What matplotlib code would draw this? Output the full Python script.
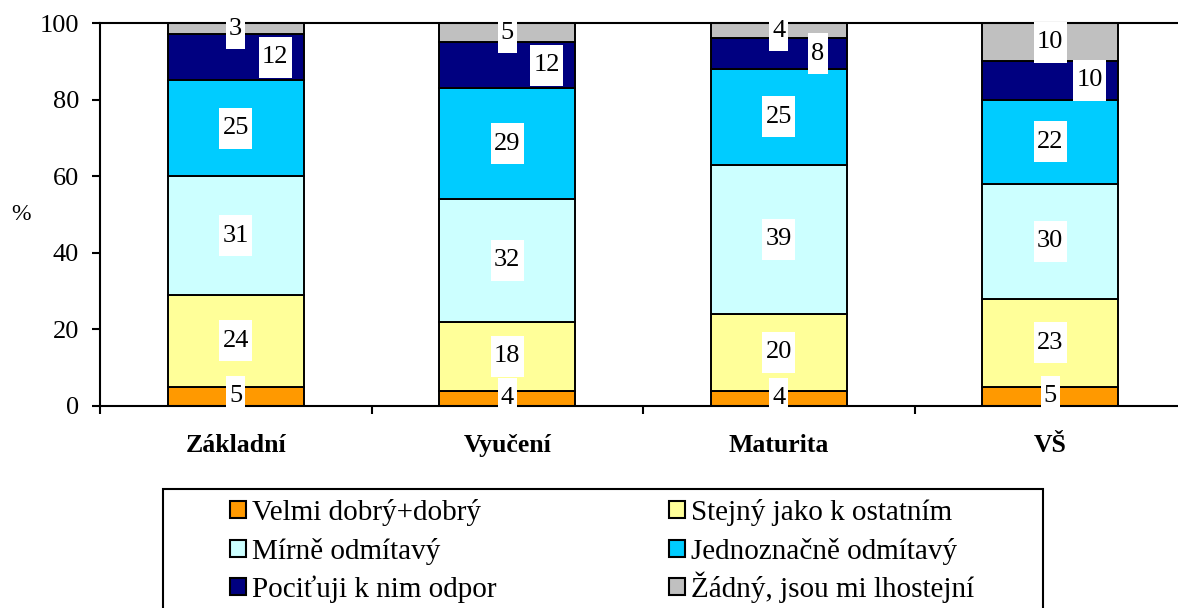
import matplotlib

matplotlib.use("Agg")
import matplotlib.pyplot as plt
from matplotlib.patches import Patch, Rectangle
from matplotlib.path import Path

plt.rcParams["font.family"] = ["Liberation Serif", "DejaVu Serif"]

categories = ["Základní", "Vyučení", "Maturita", "VŠ"]
series_names = [
    "Velmi dobrý+dobrý",
    "Stejný jako k ostatním",
    "Mírně odmítavý",
    "Jednoznačně odmítavý",
    "Pociťuji k nim odpor",
    "Žádný, jsou mi lhostejní",
]
velmi_dobry = [5, 4, 4, 5]
stejny = [24, 18, 20, 23]
mirne_odmitavy = [31, 32, 39, 30]
jednoznacne_odmitavy = [25, 29, 25, 22]
odpor = [12, 12, 8, 10]
lhostejni = [3, 5, 4, 10]
series_values = [velmi_dobry, stejny, mirne_odmitavy, jednoznacne_odmitavy, odpor, lhostejni]
colors = ["#FF9900", "#FFFF99", "#CCFFFF", "#00CCFF", "#000080", "#C0C0C0"]


def label_box(x0, y0, width, height, mutation_size):
    # white label box: narrow at the sides, tall above/below (Excel look)
    px, py = 0.12 * mutation_size, 0.36 * mutation_size
    x0, y0 = x0 - px, y0 - py
    x1, y1 = x0 + width + 2 * px, y0 + height + 2 * py
    return Path([(x0, y0), (x1, y0), (x1, y1), (x0, y1), (x0, y0)], closed=True)


W, H = 1178, 608
fig = plt.figure(figsize=(W / 100, H / 100), dpi=100)
ax = fig.add_axes([100 / W, (H - 406) / H, 1086 / W, 383 / H])

x = list(range(len(categories)))
bottoms = [0] * len(categories)
for i, (vals, color) in enumerate(zip(series_values, colors)):
    ax.bar(x, vals, width=0.5, bottom=bottoms, color=color,
           edgecolor="black", linewidth=1.4, zorder=2)
    for j, v in enumerate(vals):
        # Excel nudges the small dark segment's label to the right
        dx = 0.145 if i == 4 else 0.0
        ax.text(j + dx, bottoms[j] + v / 2, str(v), ha="center", va="center",
                fontsize=19, zorder=3,
                bbox=dict(boxstyle=label_box, fc="white", ec="none"))
    bottoms = [b + v for b, v in zip(bottoms, vals)]

ax.set_xlim(-0.5, 3.5)
ax.set_ylim(0, 100)
ax.set_yticks(range(0, 101, 20))
ax.tick_params(axis="y", direction="out", length=6, width=1.5, labelsize=19, pad=9)

# boundary ticks on x, category names as minor ticks
ax.set_xticks([-0.5, 0.5, 1.5, 2.5])
ax.set_xticklabels([])
ax.tick_params(axis="x", which="major", direction="out", length=6, width=1.5)
ax.set_xticks(x, minor=True)
ax.set_xticklabels(categories, minor=True, fontsize=18.5, fontweight="bold")
ax.tick_params(axis="x", which="minor", length=0, pad=20)

for s in ax.spines.values():
    s.set_linewidth(1.5)

fig.text(21 / W, 1 - 214 / H, "%", ha="center", va="center", fontsize=17)

# legend: 3 rows x 2 columns, one entry per legend so rows line up exactly
col_x = [230, 669]
row_y = [510, 549, 587]
for k, (name, color) in enumerate(zip(series_names, colors)):
    r, c = divmod(k, 2)
    fig.legend([Patch(facecolor=color, edgecolor="black", linewidth=1.5)], [name],
               loc="lower left", bbox_to_anchor=(col_x[c] / W, 1 - (row_y[r] + 16) / H),
               frameon=False, fontsize=21, handlelength=0.55, handleheight=0.55,
               handletextpad=0.2, borderpad=0, borderaxespad=0)
fig.add_artist(Rectangle((163 / W, -0.1), 880 / W, 0.1 + 1 - 489 / H,
                         transform=fig.transFigure, fill=False,
                         edgecolor="black", linewidth=1.5, clip_on=False))

fig.savefig("out.png", dpi=100)
